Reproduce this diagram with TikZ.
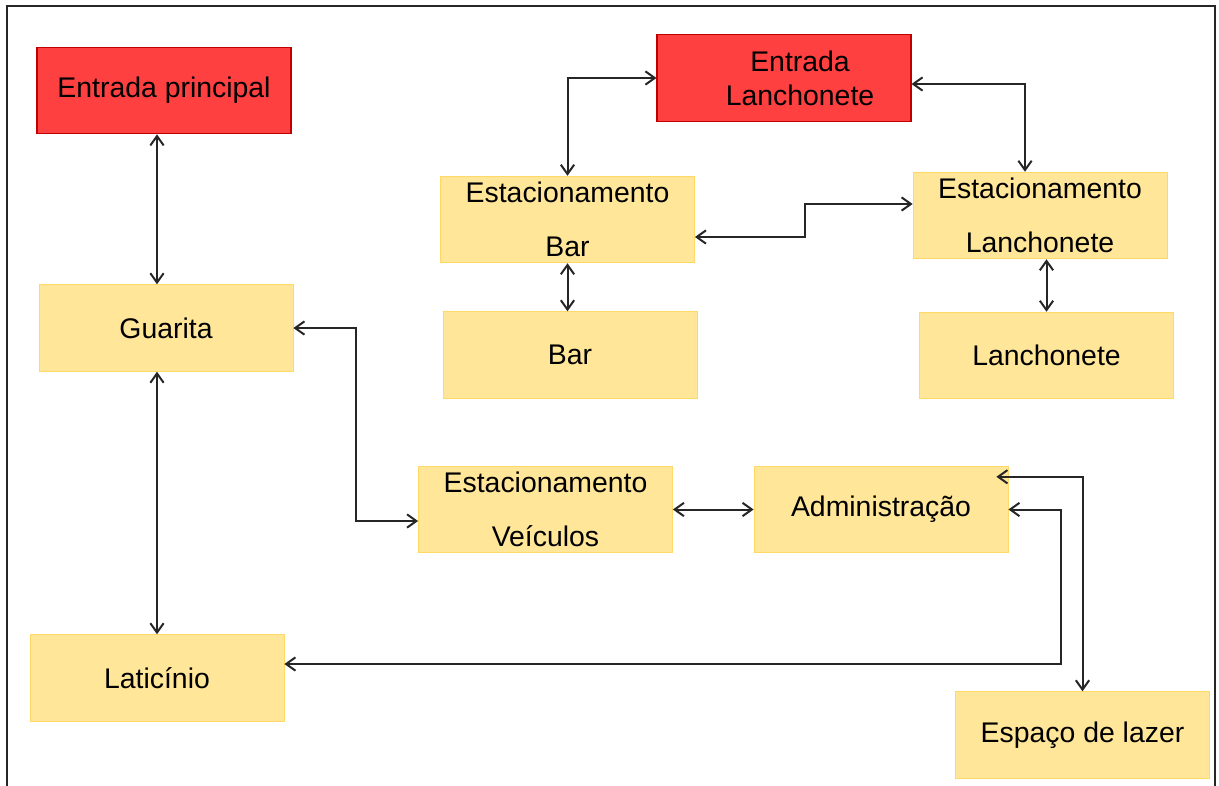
\documentclass[tikz,border=0pt]{standalone}
\usepackage{fontspec}
\setmainfont{Liberation Sans}
\usetikzlibrary{calc,arrows.meta}
\definecolor{boxyellow}{RGB}{255,230,153}
\definecolor{boxyellowline}{RGB}{255,217,102}
\definecolor{boxred}{RGB}{255,64,64}
\definecolor{boxredline}{RGB}{192,0,0}

\begin{document}
\begin{tikzpicture}[x=0.75pt,y=-0.75pt,
    place/.style={rectangle,minimum width=190.5pt,minimum height=65pt,inner sep=0pt,align=center,
      font=\fontsize{21.3}{25.5}\selectfont},
    yellowbox/.style={place,fill=boxyellow,draw=boxyellowline,line width=0.6pt},
    redbox/.style={place,fill=boxred,draw=boxredline,line width=0.8pt},
    widelines/.style={font=\fontsize{21.3}{40.5}\selectfont},
    link/.style={line width=1.5pt,draw=black!85,
      {Straight Barb[length=7pt,width=10pt]}-{Straight Barb[length=7pt,width=10pt]}}]
  \useasboundingbox (0,0) rectangle (1219,785);
  \draw[line width=1.5pt,black!85] (6.5,790) -- (6.5,5.5) -- (1214.5,5.5) -- (1214.5,790);

  % left column
  \node[redbox] (entP) at (164,90.5) {Entrada principal};
  \node[yellowbox] (guarita) at (166,328) {Guarita};
  \node[yellowbox] (latic) at (157,678) {Laticínio};

  % bar and lanchonete
  \node[redbox] (entL) at (784,78) {\hspace*{24pt}Entrada\\\hspace*{24pt}Lanchonete};
  \node[yellowbox,widelines] (eBar) at (567.5,219.5) {Estacionamento\\Bar};
  \node[yellowbox,widelines] (eLan) at (1040,215.5) {Estacionamento\\Lanchonete};
  \node[yellowbox] (bar) at (570,355) {Bar};
  \node[yellowbox] (lanch) at (1046.5,355.5) {Lanchonete};

  % lower row
  \node[yellowbox,widelines] (eVei) at (545.5,509.5) {Estacionamento\\Veículos};
  \node[yellowbox] (admin) at (881,509.5) {Administração};
  \node[yellowbox] (lazer) at (1082.5,735) {Espaço de lazer};

  % connections
  \draw[link] (entP.south -| latic.north) -- (guarita.north -| latic.north);
  \draw[link] (guarita.south -| latic.north) -- (latic.north);
  \draw[link] (guarita.east) -- ++(63,0) |- ($(eVei.west)+(0,11.5)$);
  \draw[link] (eVei.east) -- (admin.west);
  \draw[link] ($(admin.north east)+(-12,11)$) -| (lazer.north);
  \draw[link] (admin.east) -- ++(53,0) |- ($(latic.east)+(0,-14)$);
  \draw[link] (eBar.north) |- (entL.west);
  \draw[link] ($(entL.east)+(0,6)$) -| ($(eLan.north)+(-15,0)$);
  \draw[link] ($(eBar.east)+(0,17.5)$) -- ++(110,0) |- ($(eLan.west)+(0,-11.5)$);
  \draw[link] (eBar.south) -- (eBar.south |- bar.north);
  \draw[link] (lanch.north |- eLan.south) -- (lanch.north);
\end{tikzpicture}
\end{document}
